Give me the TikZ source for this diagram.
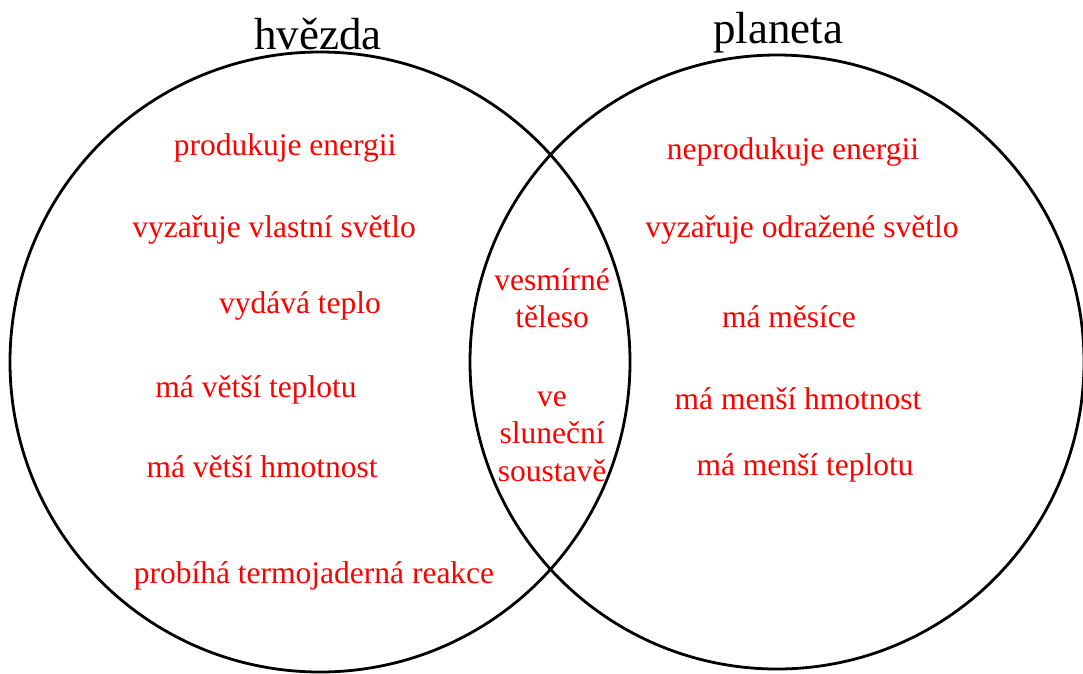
\documentclass[tikz,border=0pt]{standalone}
\usepackage{fontspec}
\setmainfont{Liberation Serif}
\usepackage{tikz}
\definecolor{lbl}{HTML}{FF0000}
\tikzset{
  item/.style={anchor=base,text=lbl,font=\fontsize{31.5}{36}\selectfont,inner sep=0pt},
  title/.style={anchor=base,font=\fontsize{45}{50}\selectfont,inner sep=0pt},
  stack/.style={item,align=center,anchor=north,font=\fontsize{31.5}{37.5}\selectfont}
}

\begin{document}
\begin{tikzpicture}[x=1pt,y=-1pt]
  \useasboundingbox (0,0) rectangle (1083,673);
  \def\rs{310}\def\rp{307}
  \coordinate (Cs) at (320,362);
  \coordinate (Cp) at (777,362);
  \draw[line width=2.8pt] (Cs) circle[radius=\rs pt];
  \draw[line width=2.8pt] (Cp) circle[radius=\rp pt];
  % titles
  \node[title] (hvezda) at (318,49) {hvězda};
  \node[title] (planeta) at (778,43) {planeta};
  % star
  \node[item] (s1) at (285,155) {produkuje energii};
  \node[item] (s2) at (274,237) {vyzařuje vlastní světlo};
  \node[item] (s3) at (300,313) {vydává teplo};
  \node[item] (s4) at (256,397) {má větší teplotu};
  \node[item] (s5) at (262,477) {má větší hmotnost};
  \node[item] (s6) at (314,583) {probíhá termojaderná reakce};
  % both
  \node[stack] (b1) at (552,268) {vesmírné\\těleso};
  \node[stack] (b2) at (552,391) {ve\\sluneční\\soustavě};
  % planet
  \node[item] (p1) at (793,159) {neprodukuje energii};
  \node[item] (p2) at (802,237) {vyzařuje odražené světlo};
  \node[item] (p3) at (789,327) {má měsíce};
  \node[item] (p4) at (798,409) {má menší hmotnost};
  \node[item] (p5) at (805,475) {má menší teplotu};
\end{tikzpicture}
\end{document}
